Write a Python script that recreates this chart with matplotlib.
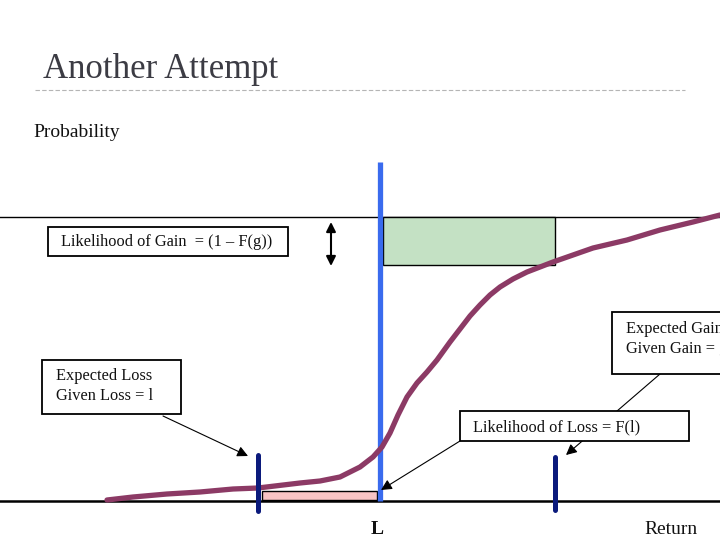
import matplotlib.pyplot as plt
from matplotlib.patches import Rectangle

# cumulative distribution curve (x = return, y = screen px)
curve_x = [107, 133, 167, 200, 233, 258, 300, 320, 340, 360, 373, 382, 390,
           398, 407, 417, 427, 437, 450, 460, 470, 480, 490, 500, 513, 527,
           553, 593, 627, 660, 693, 720]
curve_y = [500, 497, 494, 492, 489, 488, 483, 481, 477, 467, 457, 447, 433,
           415, 397, 383, 372, 360, 342, 329, 316, 305, 295, 287, 279, 272,
           262, 248, 240, 230, 222, 215]

loss_mark = 258
gain_mark = 555
threshold = 380
top_level = 217
base_level = 501

title = "Another Attempt"
gain_label = "Likelihood of Gain  = (1 \u2013 F(g))"
loss_label = "Likelihood of Loss = F(l)"
exp_loss_label = "Expected Loss\nGiven Loss = l"
exp_gain_label = "Expected Gain\nGiven Gain = g"

serif = "Liberation Serif"

fig = plt.figure(figsize=(7.2, 5.4), dpi=100)
ax = fig.add_axes([0, 0, 1, 1])
ax.set_xlim(0, 720)
ax.set_ylim(540, 0)
ax.axis("off")

ax.text(43, 78, title, fontsize=25, family=serif, color="#3c3c44")
ax.plot([35, 685], [90, 90], color="#b5b5b5", lw=0.8, ls=(0, (4, 2)))
ax.text(33, 137, "Probability", fontsize=14, family=serif, color="#111111")

# reference levels
ax.plot([0, 720], [top_level, top_level], color="black", lw=1)
ax.plot([0, 720], [base_level, base_level], color="black", lw=1.8)

# shaded areas
ax.add_patch(Rectangle((threshold + 3, top_level), gain_mark - threshold - 3, 48,
                       facecolor="#c4e1c4", edgecolor="black", lw=1, zorder=2))
ax.add_patch(Rectangle((loss_mark + 4, 491), threshold - loss_mark - 7, 9,
                       facecolor="#f8c4c4", edgecolor="black", lw=1, zorder=2))

# threshold line
ax.plot([threshold, threshold], [162, base_level], color="#3a6bee", lw=3.8,
        solid_capstyle="butt", zorder=3)

# expected loss / gain markers
ax.plot([loss_mark, loss_mark], [455, 511], color="#0b1a7c", lw=3.6,
        solid_capstyle="round", zorder=5)
ax.plot([gain_mark, gain_mark], [457, 510], color="#0b1a7c", lw=3.6,
        solid_capstyle="round", zorder=5)

# distribution curve
ax.plot(curve_x, curve_y, color="#8c3a65", lw=3.8, solid_capstyle="round",
        solid_joinstyle="round", zorder=4)

# double arrow
ax.annotate("", xy=(331, 222), xytext=(331, 266),
            arrowprops=dict(arrowstyle="<|-|>", color="black", lw=1.5,
                            mutation_scale=14, shrinkA=0, shrinkB=0))


def box(x0, y0, w, h, txt, tx, ty):
    ax.add_patch(Rectangle((x0, y0), w, h, facecolor="white", edgecolor="black",
                           lw=1.3, zorder=6))
    ax.text(tx, ty, txt, fontsize=11.8, family=serif, color="#111111",
            va="center", ha="left", linespacing=1.3, zorder=7)


def arrow(x0, y0, x1, y1):
    ax.annotate("", xy=(x1, y1), xytext=(x0, y0),
                arrowprops=dict(arrowstyle="-|>", color="black", lw=0.8,
                                mutation_scale=16, shrinkA=0, shrinkB=0),
                zorder=5)


arrow(163, 416, 248, 456)
arrow(660, 374, 566, 455)
arrow(460, 441, 381, 490)

box(48, 227, 240, 29, gain_label, 61, 242)
box(42, 360, 139, 54, exp_loss_label, 56, 386)
box(612, 312, 120, 62, exp_gain_label, 626, 339)
box(460, 411, 229, 30, loss_label, 473, 427)

ax.text(377, 530, "L", fontsize=14, family=serif, weight="bold",
        ha="center", va="center", color="#111111")
ax.text(644, 530, "Return", fontsize=14, family=serif, va="center",
        color="#111111")

fig.savefig("out.png", dpi=100)
